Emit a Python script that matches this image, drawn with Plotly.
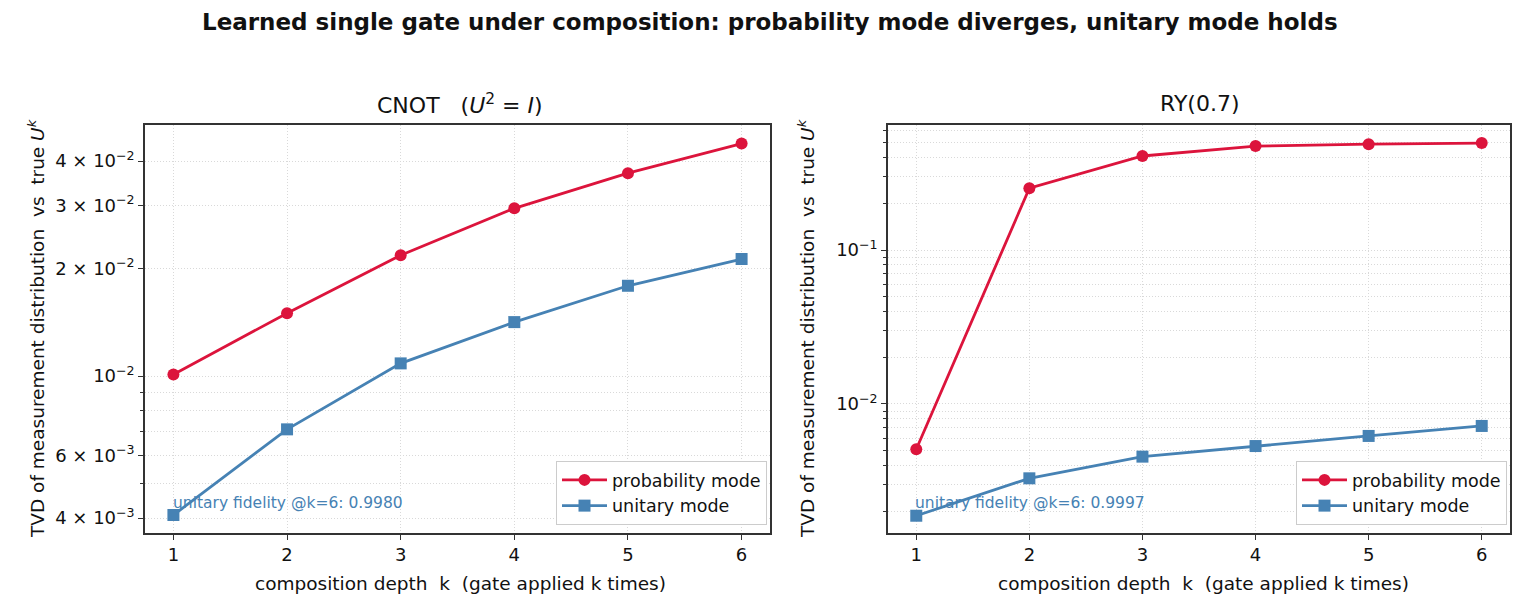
import plotly.graph_objects as go

k = [1, 2, 3, 4, 5, 6]
cnot_prob = [0.0101, 0.0150, 0.0218, 0.0295, 0.0370, 0.0448]
cnot_unit = [0.00408, 0.00709, 0.01085, 0.01416, 0.0179, 0.02127]
ry_prob = [0.00508, 0.252, 0.408, 0.473, 0.487, 0.495]
ry_unit = [0.00188, 0.00329, 0.00455, 0.00533, 0.0062, 0.0072]

left_tickvals = [0.004, 0.006, 0.01, 0.02, 0.03, 0.04]
left_ticktext = ["4 × 10<sup>−3</sup>", "6 × 10<sup>−3</sup>", "10<sup>−2</sup>",
                 "2 × 10<sup>−2</sup>", "3 × 10<sup>−2</sup>", "4 × 10<sup>−2</sup>"]
left_minor = [0.005, 0.007, 0.008, 0.009]
right_tickvals = [0.01, 0.1]
right_ticktext = ["10<sup>−2</sup>", "10<sup>−1</sup>"]
right_minor = [m * 10 ** e for e in (-3, -2, -1) for m in range(2, 10) if m * 10 ** e < 0.65]

RED = "#DC143C"
BLUE = "#4682B4"
FONT = "DejaVu Sans"
W, H = 1540, 616

def px_x(v):
    return v / W

def px_y(v):
    return 1 - v / H

fig = go.Figure()

def add_pair(xa, ya, prob, unit, legend):
    fig.add_trace(go.Scatter(x=k, y=prob, mode="lines+markers", name="probability mode",
                             line=dict(color=RED, width=2.8),
                             marker=dict(symbol="circle", size=12, color=RED),
                             xaxis=xa, yaxis=ya, legend=legend))
    fig.add_trace(go.Scatter(x=k, y=unit, mode="lines+markers", name="unitary mode",
                             line=dict(color=BLUE, width=2.8),
                             marker=dict(symbol="square", size=12, color=BLUE),
                             xaxis=xa, yaxis=ya, legend=legend))

add_pair("x", "y", cnot_prob, cnot_unit, "legend")
add_pair("x2", "y2", ry_prob, ry_unit, "legend2")

GRIDC = "#d9d9d9"
DASH = "1px,2px"
grid = dict(showgrid=True, gridcolor=GRIDC, griddash=DASH, gridwidth=1)
frame = dict(showline=True, mirror=True, linecolor="#333333", linewidth=1.5,
             ticks="outside", ticklen=5, tickwidth=1.2, tickcolor="#333333",
             tickfont=dict(family=FONT, size=18, color="#111111"), zeroline=False)

xcommon = dict(range=[0.75, 6.25], tickmode="array", tickvals=k, ticktext=[str(v) for v in k],
               **grid, **frame)

dom_y = [px_y(533), px_y(125)]

def minor(vals):
    return dict(tickmode="array", tickvals=vals, ticks="outside", ticklen=3,
                tickcolor="#333333", showgrid=True, gridcolor=GRIDC, griddash=DASH)

fig.update_layout(
    width=W, height=H,
    margin=dict(l=0, r=0, t=0, b=0),
    paper_bgcolor="white", plot_bgcolor="white",
    font=dict(family=FONT, size=18, color="#111111"),
    xaxis=dict(domain=[px_x(145), px_x(770)], anchor="y", **xcommon),
    xaxis2=dict(domain=[px_x(888), px_x(1510)], anchor="y2", **xcommon),
    yaxis=dict(domain=dom_y, anchor="x", type="log", range=[-2.4397, -1.2968],
               tickmode="array", tickvals=left_tickvals, ticktext=left_ticktext,
               minor=minor(left_minor), **grid, **frame),
    yaxis2=dict(domain=dom_y, anchor="x2", type="log", range=[-2.838, -0.188],
                tickmode="array", tickvals=right_tickvals, ticktext=right_ticktext,
                minor=minor(right_minor), **grid, **frame),
    legend=dict(x=px_x(767), y=px_y(525), xanchor="right", yanchor="bottom",
                bgcolor="white", bordercolor="#cccccc", borderwidth=1,
                font=dict(family=FONT, size=17.5, color="#111111"), itemwidth=45),
    legend2=dict(x=px_x(1507), y=px_y(525), xanchor="right", yanchor="bottom",
                 bgcolor="white", bordercolor="#cccccc", borderwidth=1,
                 font=dict(family=FONT, size=17.5, color="#111111"), itemwidth=45),
    showlegend=True,
)

ann = []
ann.append(dict(text="<b>Learned single gate under composition: probability mode diverges, unitary mode holds</b>",
                x=px_x(770), y=px_y(22), xref="paper", yref="paper", showarrow=False,
                font=dict(family=FONT, size=23, color="#111111"), xanchor="center", yanchor="middle"))
ann.append(dict(text="CNOT\u00a0\u00a0\u00a0(<i>U</i><sup>2</sup> = <i>I</i>)",
                x=px_x(460), y=px_y(104), xref="paper", yref="paper", showarrow=False,
                font=dict(family=FONT, size=22, color="#111111"), xanchor="center", yanchor="middle"))
ann.append(dict(text="RY(0.7)",
                x=px_x(1199), y=px_y(104), xref="paper", yref="paper", showarrow=False,
                font=dict(family=FONT, size=22, color="#111111"), xanchor="center", yanchor="middle"))
for cx in (460, 1203):
    ann.append(dict(text="composition depth\u00a0\u00a0k\u00a0\u00a0(gate applied k times)",
                    x=px_x(cx), y=px_y(583), xref="paper", yref="paper", showarrow=False,
                    font=dict(family=FONT, size=18.5, color="#111111"), xanchor="center", yanchor="middle"))
for cx in (36, 806):
    ann.append(dict(text="TVD of measurement distribution\u00a0\u00a0vs\u00a0\u00a0true <i>U</i><sup><i>k</i></sup>",
                    x=px_x(cx), y=px_y(329), xref="paper", yref="paper", showarrow=False, textangle=-90,
                    font=dict(family=FONT, size=18.5, color="#111111"), xanchor="center", yanchor="middle"))
ann.append(dict(text="unitary fidelity @k=6: 0.9980", x=px_x(171), y=px_y(503), xref="paper", yref="paper",
                showarrow=False, xanchor="left", yanchor="middle",
                font=dict(family=FONT, size=15.5, color=BLUE)))
ann.append(dict(text="unitary fidelity @k=6: 0.9997", x=px_x(913), y=px_y(503), xref="paper", yref="paper",
                showarrow=False, xanchor="left", yanchor="middle",
                font=dict(family=FONT, size=15.5, color=BLUE)))
fig.update_layout(annotations=ann)

fig.write_html("out.html")
